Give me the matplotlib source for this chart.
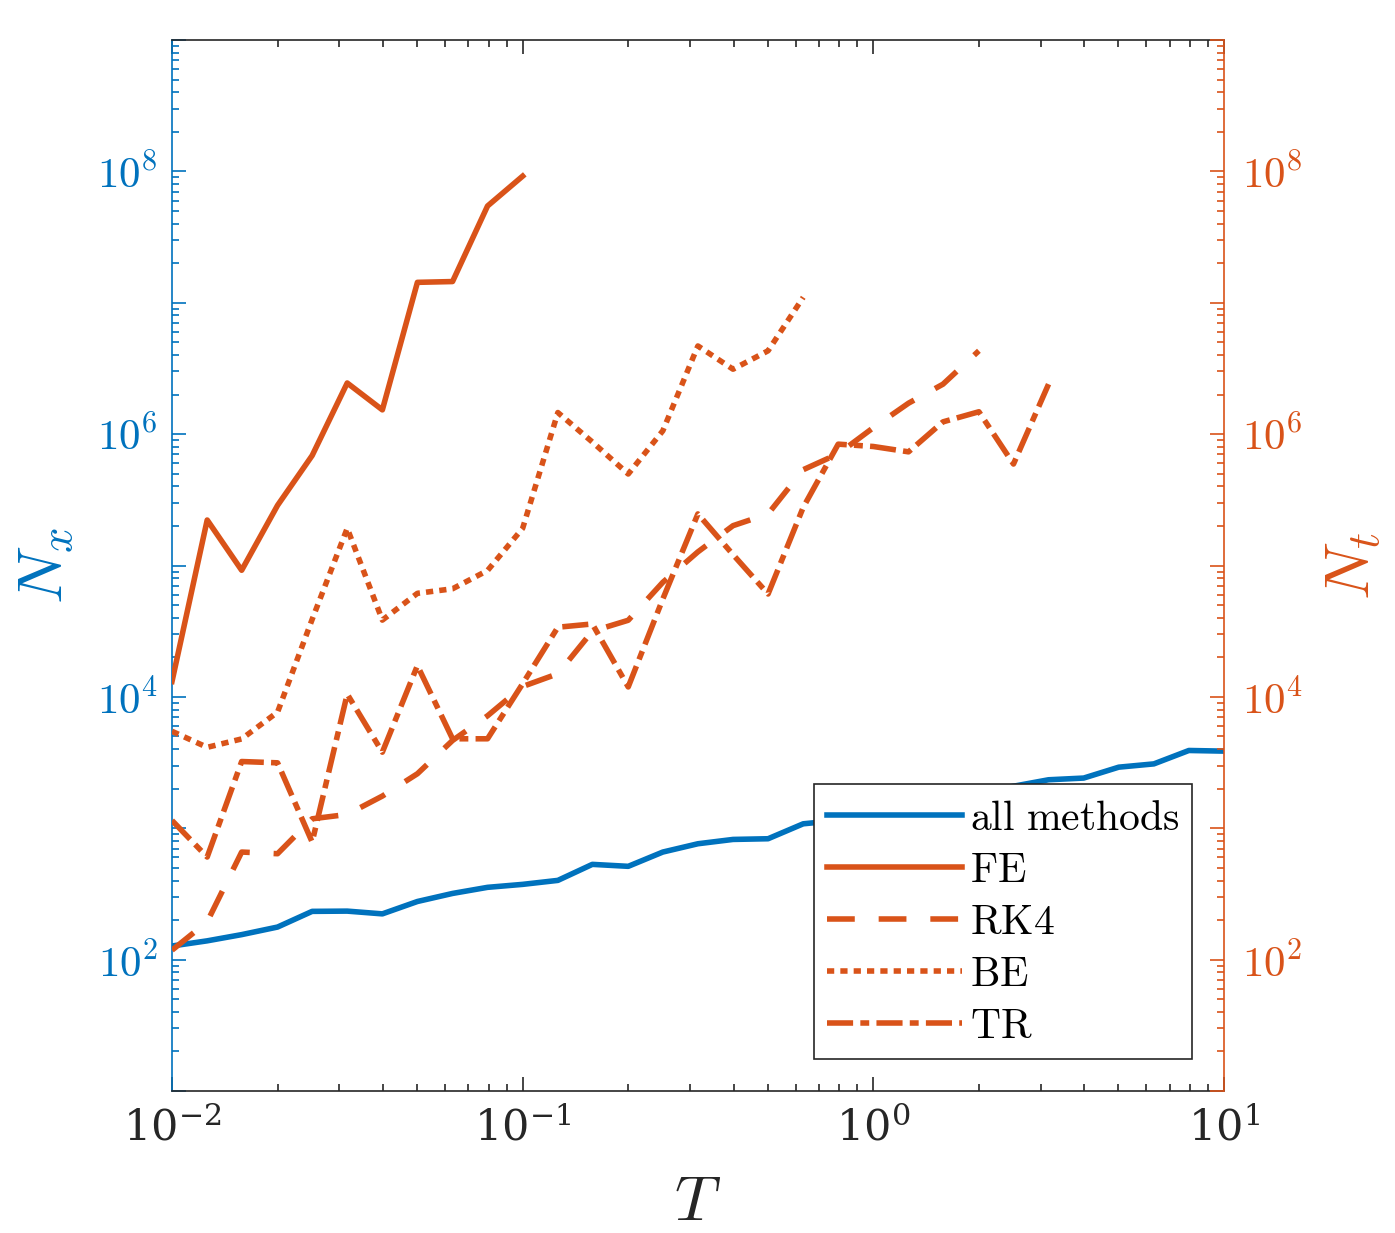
import math
import matplotlib
matplotlib.use("Agg")
import matplotlib.pyplot as plt
from matplotlib.ticker import FixedLocator, FuncFormatter, LogLocator, LogFormatterMathtext, NullFormatter

plt.rcParams['mathtext.fontset'] = 'cm'
plt.rcParams['font.family'] = ['DejaVu Serif']

blue = '#0072BD'
orange = '#D95319'
dark = '#262626'

# time horizon grid (log spaced, 10 points per decade)
T = [0.01, 0.0126, 0.0158, 0.02, 0.0251, 0.0316, 0.0398, 0.0501, 0.0631, 0.0794,
     0.1, 0.126, 0.158, 0.2, 0.251, 0.316, 0.398, 0.501, 0.631, 0.794,
     1.0, 1.26, 1.58, 2.0, 2.51, 3.16, 3.98, 5.01, 6.31, 7.94, 10.0]

# spatial points, same for every method
Nx_all = [127, 139, 155, 177, 233, 234, 223, 277, 319, 355,
          374, 401, 531, 513, 659, 762, 822, 832, 1081, 1148,
          1259, 1413, 1585, 1820, 2089, 2339, 2410, 2917, 3090, 3908, 3864]

# time steps per method
Nt_FE = [1.31e4, 2.22e5, 9.2e4, 2.87e5, 6.87e5, 2.45e6, 1.53e6, 1.43e7, 1.45e7, 5.45e7, 9.2e7]
Nt_RK4 = [118, 194, 659, 640, 1180, 1274, 1758, 2600, 4656, 7178,
          1.2e4, 1.5e4, 3.16e4, 3.83e4, 7.45e4, 1.27e5, 2.01e5, 2.47e5, 5.36e5, 7.08e5,
          1.12e6, 1.72e6, 2.4e6, 4.31e6]
Nt_BE = [5470, 4130, 4786, 7656, 3.89e4, 1.92e5, 3.84e4, 6.14e4, 6.65e4, 9.16e4,
         1.92e5, 1.46e6, 8.71e5, 4.97e5, 1.06e6, 4.69e6, 3.12e6, 4.31e6, 1.1e7]
Nt_TR = [1146, 604, 3221, 3148, 785, 1.05e4, 3793, 1.73e4, 4797, 4797,
         1.26e4, 3.39e4, 3.59e4, 1.19e4, 5.56e4, 2.47e5, 1.21e5, 6.07e4, 2.77e5, 8.39e5,
         8.05e5, 7.33e5, 1.24e6, 1.48e6, 5.92e5, 2.4e6]

lw = 4.0
tick_fs = 31
label_fs = 46


def even_decades(v, pos):
    e = round(math.log10(v))
    return r'$10^{%d}$' % e if e % 2 == 0 else ''


fig = plt.figure(figsize=(13.95, 12.33), dpi=100)
ax1 = fig.add_axes([172/1395, 1 - 1091/1233, 1052/1395, 1051/1233])
ax2 = ax1.twinx()

ax1.plot(T, Nx_all, color=blue, lw=lw, label=r'$\mathrm{all\ methods}$')
ax2.plot(T[:len(Nt_FE)], Nt_FE, color=orange, lw=lw, label=r'$\mathrm{FE}$')
ax2.plot(T[:len(Nt_RK4)], Nt_RK4, color=orange, lw=lw, ls=(0, (5.0, 4.3)), label=r'$\mathrm{RK4}$')
ax2.plot(T[:len(Nt_BE)], Nt_BE, color=orange, lw=lw, ls=(0, (1.3, 1.1)), label=r'$\mathrm{BE}$')
ax2.plot(T[:len(Nt_TR)], Nt_TR, color=orange, lw=lw, ls=(0, (4.7, 1.3, 1.6, 1.3)), label=r'$\mathrm{TR}$')

for ax in (ax1, ax2):
    ax.set_xscale('log')
    ax.set_yscale('log')
    ax.set_xlim(1e-2, 1e1)
    ax.set_ylim(1e1, 1e9)
    ax.yaxis.set_major_locator(FixedLocator([10.0**e for e in range(1, 10)]))
    ax.yaxis.set_minor_locator(LogLocator(base=10, subs=range(2, 10), numticks=50))
    ax.yaxis.set_major_formatter(FuncFormatter(even_decades))
    ax.yaxis.set_minor_formatter(NullFormatter())

ax1.xaxis.set_major_locator(LogLocator(base=10, numticks=10))
ax1.xaxis.set_minor_locator(LogLocator(base=10, subs=range(2, 10), numticks=50))
ax1.xaxis.set_major_formatter(LogFormatterMathtext())
ax1.xaxis.set_minor_formatter(NullFormatter())

ax1.tick_params(axis='x', which='both', direction='in', top=True, bottom=True,
                colors=dark, labelsize=tick_fs, pad=12, width=1.2)
ax1.tick_params(axis='x', which='major', length=10)
ax1.tick_params(axis='x', which='minor', length=5)
ax1.tick_params(axis='y', which='both', direction='in', left=True, right=False,
                colors=blue, labelsize=tick_fs, pad=10, width=1.2)
ax1.tick_params(axis='y', which='major', length=10)
ax1.tick_params(axis='y', which='minor', length=5)
ax2.tick_params(axis='y', which='both', direction='in', left=False, right=True,
                colors=orange, labelsize=tick_fs, pad=13, width=1.2)
ax2.tick_params(axis='y', which='major', length=10)
ax2.tick_params(axis='y', which='minor', length=5)

for ax in (ax1, ax2):
    for s in ax.spines.values():
        s.set_linewidth(1.2)
ax1.spines['left'].set_color(blue)
ax1.spines['top'].set_color(dark)
ax1.spines['bottom'].set_color(dark)
ax1.spines['right'].set_visible(False)
ax2.spines['right'].set_color(orange)
ax2.spines['left'].set_visible(False)
ax2.spines['top'].set_visible(False)
ax2.spines['bottom'].set_visible(False)

ax1.set_xlabel(r'$T$', fontsize=label_fs, color=dark, labelpad=16)
ax1.set_ylabel(r'$N_x$', fontsize=label_fs, color=blue, labelpad=14)
ax2.set_ylabel(r'$N_t$', fontsize=label_fs, color=orange, labelpad=14)

h1, l1 = ax1.get_legend_handles_labels()
h2, l2 = ax2.get_legend_handles_labels()
leg = ax2.legend(h1 + h2, l1 + l2, loc='lower right', bbox_to_anchor=(0.970, 0.030),
                 borderaxespad=0, fontsize=30, handlelength=3.25, handletextpad=0.2,
                 labelspacing=0.24, borderpad=0.3, fancybox=False, framealpha=1,
                 edgecolor=dark)
leg.get_frame().set_linewidth(1.2)

fig.savefig('out.png', dpi=100)
